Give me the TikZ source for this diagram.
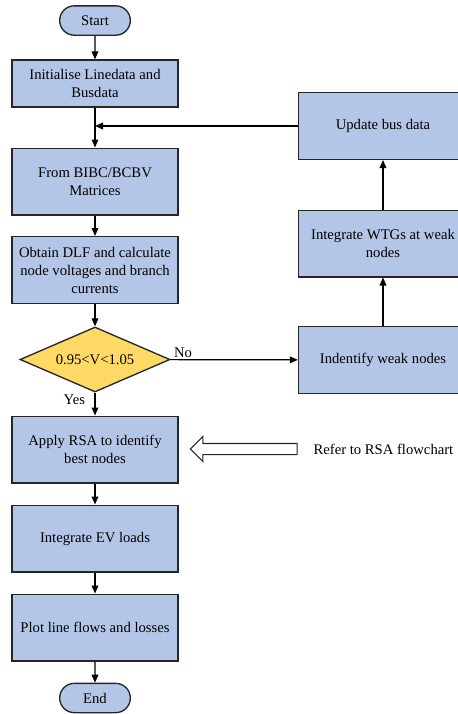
\documentclass[tikz,border=0pt]{standalone}
\usepackage{fontspec}
\setmainfont{Liberation Serif}
\usepackage{xcolor}
\usepackage{tikz}
\usetikzlibrary{shapes.geometric, shapes.misc, shapes.arrows, arrows.meta, positioning, calc}

\definecolor{boxblue}{HTML}{B4C6E7}
\definecolor{decyellow}{HTML}{FFD966}
\definecolor{edgegray}{HTML}{262626}

\begin{document}
\begin{tikzpicture}[x=0.75pt, y=-0.75pt,
  box/.style  = {rectangle, draw=edgegray, line width=1pt, fill=boxblue,
                 text centered, font=\fontsize{11}{13.5}\selectfont,
                 minimum height=50pt, minimum width=124.5pt, align=center,
                 inner sep=2pt},
  term/.style = {rounded rectangle, draw=edgegray, line width=1pt, fill=boxblue,
                 font=\fontsize{11}{13.5}\selectfont,
                 minimum height=22pt, minimum width=57pt, inner sep=2pt},
  dec/.style  = {diamond, aspect=2.3, draw=edgegray, line width=1pt, fill=decyellow,
                 font=\fontsize{11}{13.5}\selectfont,
                 minimum width=112.5pt, minimum height=48.75pt, inner sep=0pt},
  arr/.style  = {-{Triangle[length=6pt, width=5pt]}, line width=0.9pt, black},
  lbl/.style  = {font=\fontsize{11}{13.5}\selectfont, inner sep=1pt},
]
  \useasboundingbox (0,0) rectangle (457,714);

  % main column
  \node[term] (start) at (95,20.5) {Start};
  \node[box, minimum height=35.25pt] (init) at (95,83.5) {Initialise Linedata and\\Busdata};
  \node[box] (bibc) at (95,181.5) {From BIBC/BCBV\\Matrices};
  \node[box] (dlf) at (95,270) {Obtain DLF and calculate\\node voltages and branch\\currents};
  \node[dec] (check) at (95,359.5) {0.95<V<1.05};
  \node[box] (rsa) at (95,449.5) {Apply RSA to identify\\best nodes};
  \node[box] (ev) at (95,538.5) {Integrate EV loads};
  \node[box] (plot) at (95,627.5) {Plot line flows and losses};
  \node[term] (stop) at (95,698) {End};

  % right column
  \node[box, minimum width=126.75pt] (weak) at (383,360) {Indentify weak nodes};
  \node[box, minimum width=126.75pt] (wtg) at (383,243.5) {Integrate WTGs at weak\\nodes};
  \node[box, minimum width=126.75pt] (update) at (383,126) {Update bus data};

  % pointer to RSA flowchart
  \node[single arrow, draw=edgegray, line width=0.8pt, fill=white,
        shape border rotate=180, minimum height=80pt,
        single arrow head extend=5.25pt, inner xsep=0pt, inner ysep=3.75pt] (hollow) at (246.5,449) {};
  \node[lbl, anchor=west] (ref) at (312,449) {Refer to RSA flowchart};

  \coordinate (join) at (95,126);

  \draw[arr] (start) -- (init);
  \draw[arr] (init) -- (bibc);
  \draw[arr] (bibc) -- (dlf);
  \draw[arr] (dlf) -- (check);
  \draw[arr] (check) -- node[lbl, left, pos=0.3, xshift=-6pt] {Yes} (rsa);
  \draw[arr] (rsa) -- (ev);
  \draw[arr] (ev) -- (plot);
  \draw[arr] (plot) -- (stop);
  \draw[arr] (check) -- node[lbl, above, pos=0.1] {No} (weak);
  \draw[arr] (weak) -- (wtg);
  \draw[arr] (wtg) -- (update);
  \draw[arr] (update) -- (join);
\end{tikzpicture}
\end{document}
